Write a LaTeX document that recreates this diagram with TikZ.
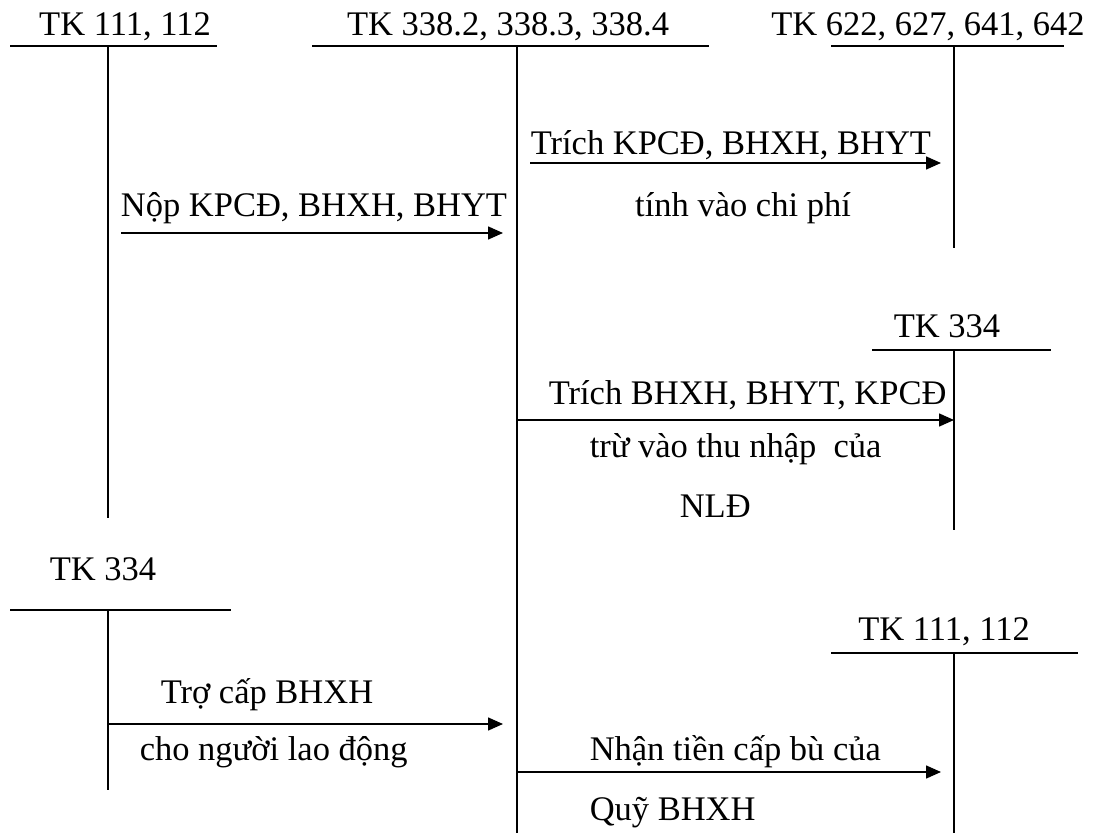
\documentclass[tikz,border=0pt]{standalone}
\usepackage{fontspec}
\setmainfont{Liberation Serif}
\usetikzlibrary{arrows.meta}
\begin{document}
\begin{tikzpicture}[x=0.5pt, y=-0.5pt, line width=0.75pt, line cap=butt,
	font=\fontsize{17.25}{20}\selectfont,
	chu/.style={inner sep=0pt, anchor=base},
	chut/.style={inner sep=0pt, anchor=base west},
	mui/.style={-{Triangle[length=7.5pt,width=6.5pt]}}]
	\useasboundingbox (0,0) rectangle (1096,833);
	% cac tai khoan chu T
	\path
	(10,46) coordinate (A1) (217,46) coordinate (A2) (108,46) coordinate (A3) (108,518) coordinate (A4)
	(312,46) coordinate (B1) (709,46) coordinate (B2) (517,46) coordinate (B3) (517,833) coordinate (B4)
	(831,46) coordinate (C1) (1064,46) coordinate (C2) (954,46) coordinate (C3) (954,248) coordinate (C4)
	(872,350) coordinate (D1) (1051,350) coordinate (D2) (954,350) coordinate (D3) (954,530) coordinate (D4)
	(10,610) coordinate (E1) (231,610) coordinate (E2) (108,610) coordinate (E3) (108,790) coordinate (E4)
	(831,653) coordinate (F1) (1078,653) coordinate (F2) (954,653) coordinate (F3) (954,833) coordinate (F4)
	;
	\draw (A1)--(A2) (A3)--(A4);
	\draw (B1)--(B2) (B3)--(B4);
	\draw (C1)--(C2) (C3)--(C4);
	\draw (D1)--(D2) (D3)--(D4);
	\draw (E1)--(E2) (E3)--(E4);
	\draw (F1)--(F2) (F3)--(F4);
	\node[chu] (tkA) at (125,36) {TK 111, 112};
	\node[chu] (tkB) at (508,36) {TK 338.2, 338.3, 338.4};
	\node[chu] (tkC) at (928,36) {TK 622, 627, 641, 642};
	\node[chu] (tkD) at (947,338) {TK 334};
	\node[chu] (tkE) at (103,580) {TK 334};
	\node[chu] (tkF) at (944,640) {TK 111, 112};
	% cac but toan
	\path
	(121,233) coordinate (nop1) (503,233) coordinate (nop2)
	(530,163) coordinate (trich1) (941,163) coordinate (trich2)
	(517,420) coordinate (tru1) (954,420) coordinate (tru2)
	(108,724) coordinate (tro1) (503,724) coordinate (tro2)
	(517,772) coordinate (nhan1) (941,772) coordinate (nhan2)
	;
	\draw[mui] (nop1)--(nop2);
	\draw[mui] (trich1)--(trich2);
	\draw[mui] (tru1)--(tru2);
	\draw[mui] (tro1)--(tro2);
	\draw[mui] (nhan1)--(nhan2);
	\node[chu] (nop) at (314,217) {Nộp KPCĐ, BHXH, BHYT};
	\node[chut] (trich) at (530,155) {Trích KPCĐ, BHXH, BHYT};
	\node[chu] (tinh) at (743,217) {tính vào chi phí};
	\node[chut] (tru) at (548,405) {Trích BHXH, BHYT, KPCĐ};
	\node[chut] (thunhap) at (589,458) {trừ vào thu nhập\ \ của};
	\node[chut] (nld) at (679,517) {NLĐ};
	\node[chut] (tro) at (160,703) {Trợ cấp BHXH};
	\node[chut] (cho) at (139,760) {cho người lao động};
	\node[chut] (nhan) at (589,760) {Nhận tiền cấp bù của};
	\node[chut] (quy) at (589,820) {Quỹ BHXH};
\end{tikzpicture}
\end{document}
